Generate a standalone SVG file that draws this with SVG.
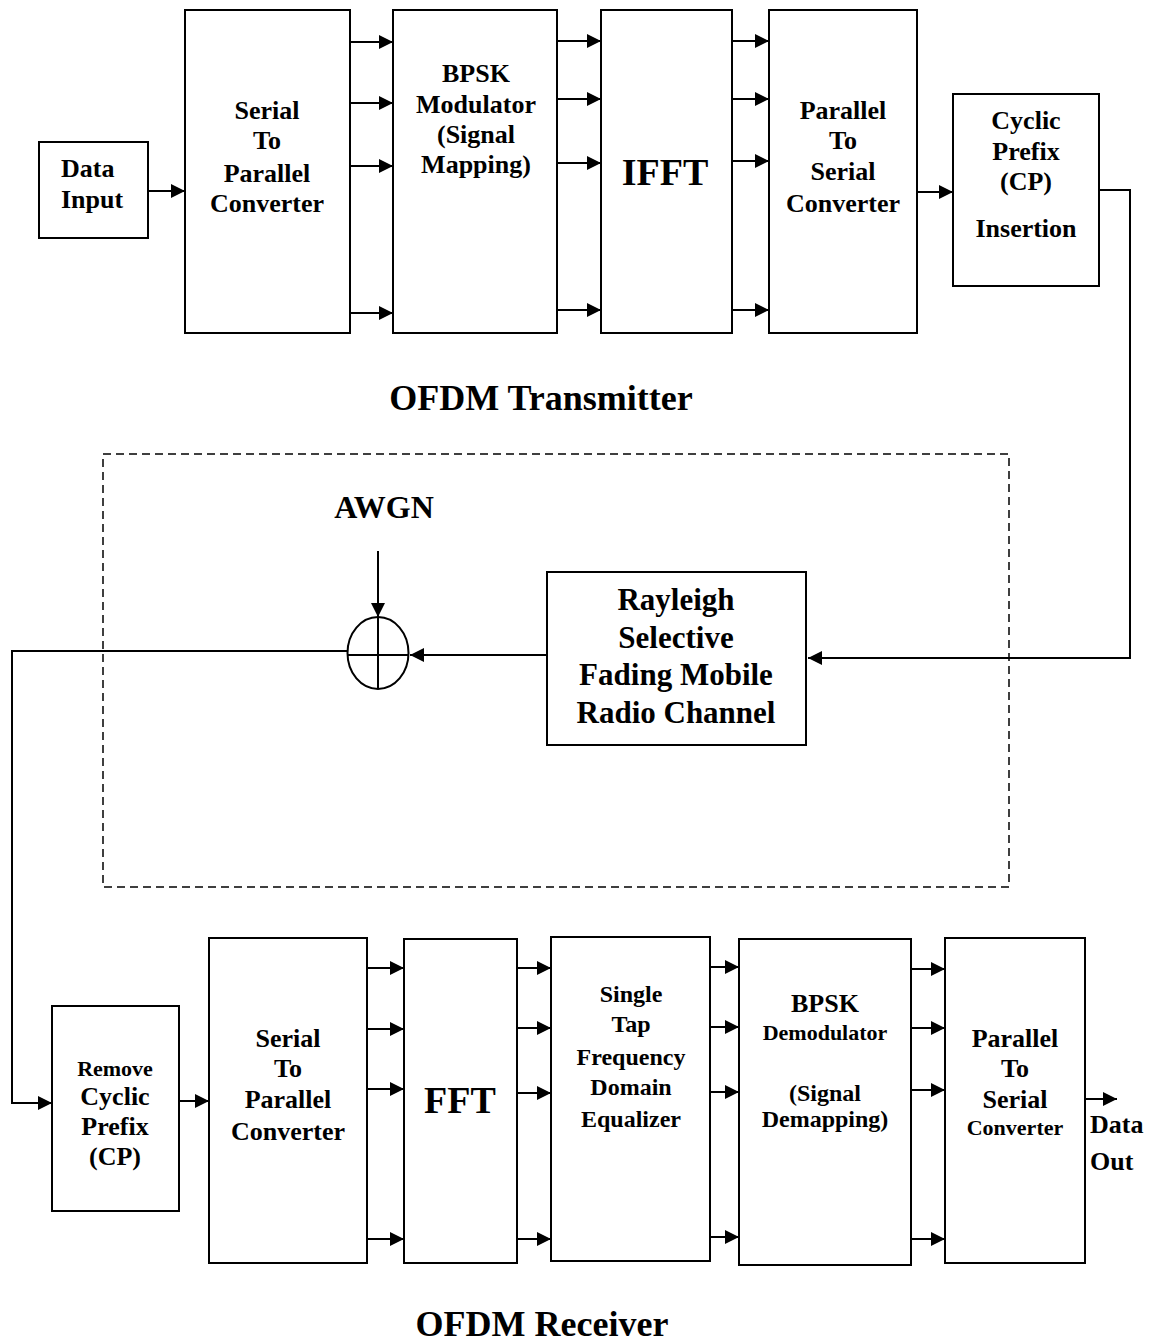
<svg xmlns="http://www.w3.org/2000/svg" width="1149" height="1343" viewBox="0 0 1149 1343">
<style>
.box{fill:#fff;stroke:#000;stroke-width:2}
.ln{fill:none;stroke:#000;stroke-width:2}
.ar{fill:none;stroke:#000;stroke-width:2;marker-end:url(#ah)}
text{font-family:"Liberation Serif","Times New Roman",serif;font-weight:bold;fill:#000;text-anchor:middle}
.t26{font-size:26px}
.t24{font-size:24px}
.t22{font-size:22px}
.t31{font-size:31px}
.big{font-size:38px}
.title{font-size:36px}
</style>
<defs>
<marker id="ah" markerUnits="userSpaceOnUse" markerWidth="14" markerHeight="14" refX="14" refY="7" orient="auto">
<path d="M0,0 L14,7 L0,14 z" fill="#000"/>
</marker>
</defs>
<rect width="1149" height="1343" fill="#fff"/>

<!-- channel dashed box -->
<rect id="channel-region" x="103" y="454" width="906" height="433" fill="none" stroke="#000" stroke-width="1.5" stroke-dasharray="8,5"/>

<!-- Transmitter nodes -->
<g id="data-input">
<rect class="box" x="39" y="142" width="109" height="96"/>
<text class="t26" x="61" y="177" style="text-anchor:start">Data</text>
<text class="t26" x="61" y="208" style="text-anchor:start">Input</text>
</g>
<g id="tx-sp">
<rect class="box" x="185" y="10" width="165" height="323"/>
<text class="t26" x="267" y="119">Serial</text>
<text class="t26" x="267" y="149">To</text>
<text class="t26" x="267" y="182">Parallel</text>
<text class="t26" x="267" y="212">Converter</text>
</g>
<g id="bpsk-mod">
<rect class="box" x="393" y="10" width="164" height="323"/>
<text class="t26" x="476" y="82">BPSK</text>
<text class="t26" x="476" y="113">Modulator</text>
<text class="t26" x="476" y="143">(Signal</text>
<text class="t26" x="476" y="173">Mapping)</text>
</g>
<g id="ifft">
<rect class="box" x="601" y="10" width="131" height="323"/>
<text class="big" x="665" y="185">IFFT</text>
</g>
<g id="tx-ps">
<rect class="box" x="769" y="10" width="148" height="323"/>
<text class="t26" x="843" y="119">Parallel</text>
<text class="t26" x="843" y="149">To</text>
<text class="t26" x="843" y="180">Serial</text>
<text class="t26" x="843" y="212">Converter</text>
</g>
<g id="cp-insert">
<rect class="box" x="953" y="94" width="146" height="192"/>
<text class="t26" x="1026" y="129">Cyclic</text>
<text class="t26" x="1026" y="160">Prefix</text>
<text class="t26" x="1026" y="190">(CP)</text>
<text class="t26" x="1026" y="237">Insertion</text>
</g>
<text class="title" x="541" y="410">OFDM Transmitter</text>

<!-- Channel -->
<g id="rayleigh">
<rect class="box" x="547" y="572" width="259" height="173"/>
<text class="t31" x="676" y="610">Rayleigh</text>
<text class="t31" x="676" y="648">Selective</text>
<text class="t31" x="676" y="685">Fading Mobile</text>
<text class="t31" x="676" y="723">Radio Channel</text>
</g>
<g id="awgn-sum">
<ellipse cx="378" cy="653" rx="30.5" ry="36" fill="#fff" stroke="#000" stroke-width="2"/>
<line class="ln" x1="378" y1="617" x2="378" y2="689"/>
<line class="ln" x1="348" y1="655" x2="409" y2="655"/>
</g>
<text x="384" y="518" style="font-size:32px">AWGN</text>

<!-- Receiver nodes -->
<g id="remove-cp">
<rect class="box" x="52" y="1006" width="127" height="205"/>
<text class="t22" x="115" y="1076">Remove</text>
<text class="t26" x="115" y="1105">Cyclic</text>
<text class="t26" x="115" y="1135">Prefix</text>
<text class="t26" x="115" y="1165">(CP)</text>
</g>
<g id="rx-sp">
<rect class="box" x="209" y="938" width="158" height="325"/>
<text class="t26" x="288" y="1047">Serial</text>
<text class="t26" x="288" y="1077">To</text>
<text class="t26" x="288" y="1108">Parallel</text>
<text class="t26" x="288" y="1140">Converter</text>
</g>
<g id="fft">
<rect class="box" x="404" y="939" width="113" height="324"/>
<text class="big" x="460" y="1113">FFT</text>
</g>
<g id="equalizer">
<rect class="box" x="551" y="937" width="159" height="324"/>
<text class="t24" x="631" y="1002">Single</text>
<text class="t24" x="631" y="1032">Tap</text>
<text class="t24" x="631" y="1065">Frequency</text>
<text class="t24" x="631" y="1095">Domain</text>
<text class="t24" x="631" y="1127">Equalizer</text>
</g>
<g id="bpsk-demod">
<rect class="box" x="739" y="939" width="172" height="326"/>
<text class="t26" x="825" y="1012">BPSK</text>
<text class="t22" x="825" y="1040">Demodulator</text>
<text class="t24" x="825" y="1101">(Signal</text>
<text class="t24" x="825" y="1127">Demapping)</text>
</g>
<g id="rx-ps">
<rect class="box" x="945" y="938" width="140" height="325"/>
<text class="t26" x="1015" y="1047">Parallel</text>
<text class="t26" x="1015" y="1077">To</text>
<text class="t26" x="1015" y="1108">Serial</text>
<text class="t22" x="1015" y="1135">Converter</text>
</g>
<text class="t26" x="1090" y="1133" style="text-anchor:start">Data</text>
<text class="t26" x="1090" y="1170" style="text-anchor:start">Out</text>
<text class="title" x="542" y="1336">OFDM Receiver</text>

<!-- Connectors -->
<g id="connectors">
<line class="ar" x1="148" y1="191" x2="185" y2="191"/>
<line class="ar" x1="350" y1="42" x2="393" y2="42"/>
<line class="ar" x1="350" y1="103" x2="393" y2="103"/>
<line class="ar" x1="350" y1="166" x2="393" y2="166"/>
<line class="ar" x1="350" y1="313" x2="393" y2="313"/>
<line class="ar" x1="557" y1="41" x2="601" y2="41"/>
<line class="ar" x1="557" y1="99" x2="601" y2="99"/>
<line class="ar" x1="557" y1="163" x2="601" y2="163"/>
<line class="ar" x1="557" y1="310" x2="601" y2="310"/>
<line class="ar" x1="732" y1="41" x2="769" y2="41"/>
<line class="ar" x1="732" y1="99" x2="769" y2="99"/>
<line class="ar" x1="732" y1="161" x2="769" y2="161"/>
<line class="ar" x1="732" y1="310" x2="769" y2="310"/>
<line class="ar" x1="917" y1="192" x2="953" y2="192"/>
<polyline class="ar" points="1099,190 1130,190 1130,658 808,658"/>
<line class="ar" x1="547" y1="655" x2="410" y2="655"/>
<line class="ar" x1="378" y1="551" x2="378" y2="617"/>
<polyline class="ar" points="348,651 12,651 12,1103 52,1103"/>
<line class="ar" x1="179" y1="1101" x2="209" y2="1101"/>
<line class="ar" x1="367" y1="968" x2="404" y2="968"/>
<line class="ar" x1="367" y1="1029" x2="404" y2="1029"/>
<line class="ar" x1="367" y1="1089" x2="404" y2="1089"/>
<line class="ar" x1="367" y1="1239" x2="404" y2="1239"/>
<line class="ar" x1="517" y1="968" x2="551" y2="968"/>
<line class="ar" x1="517" y1="1028" x2="551" y2="1028"/>
<line class="ar" x1="517" y1="1093" x2="551" y2="1093"/>
<line class="ar" x1="517" y1="1239" x2="551" y2="1239"/>
<line class="ar" x1="710" y1="967" x2="739" y2="967"/>
<line class="ar" x1="710" y1="1027" x2="739" y2="1027"/>
<line class="ar" x1="710" y1="1092" x2="739" y2="1092"/>
<line class="ar" x1="710" y1="1237" x2="739" y2="1237"/>
<line class="ar" x1="911" y1="969" x2="945" y2="969"/>
<line class="ar" x1="911" y1="1028" x2="945" y2="1028"/>
<line class="ar" x1="911" y1="1090" x2="945" y2="1090"/>
<line class="ar" x1="911" y1="1239" x2="945" y2="1239"/>
<line class="ar" x1="1085" y1="1099" x2="1117" y2="1099"/>
</g>
</svg>
